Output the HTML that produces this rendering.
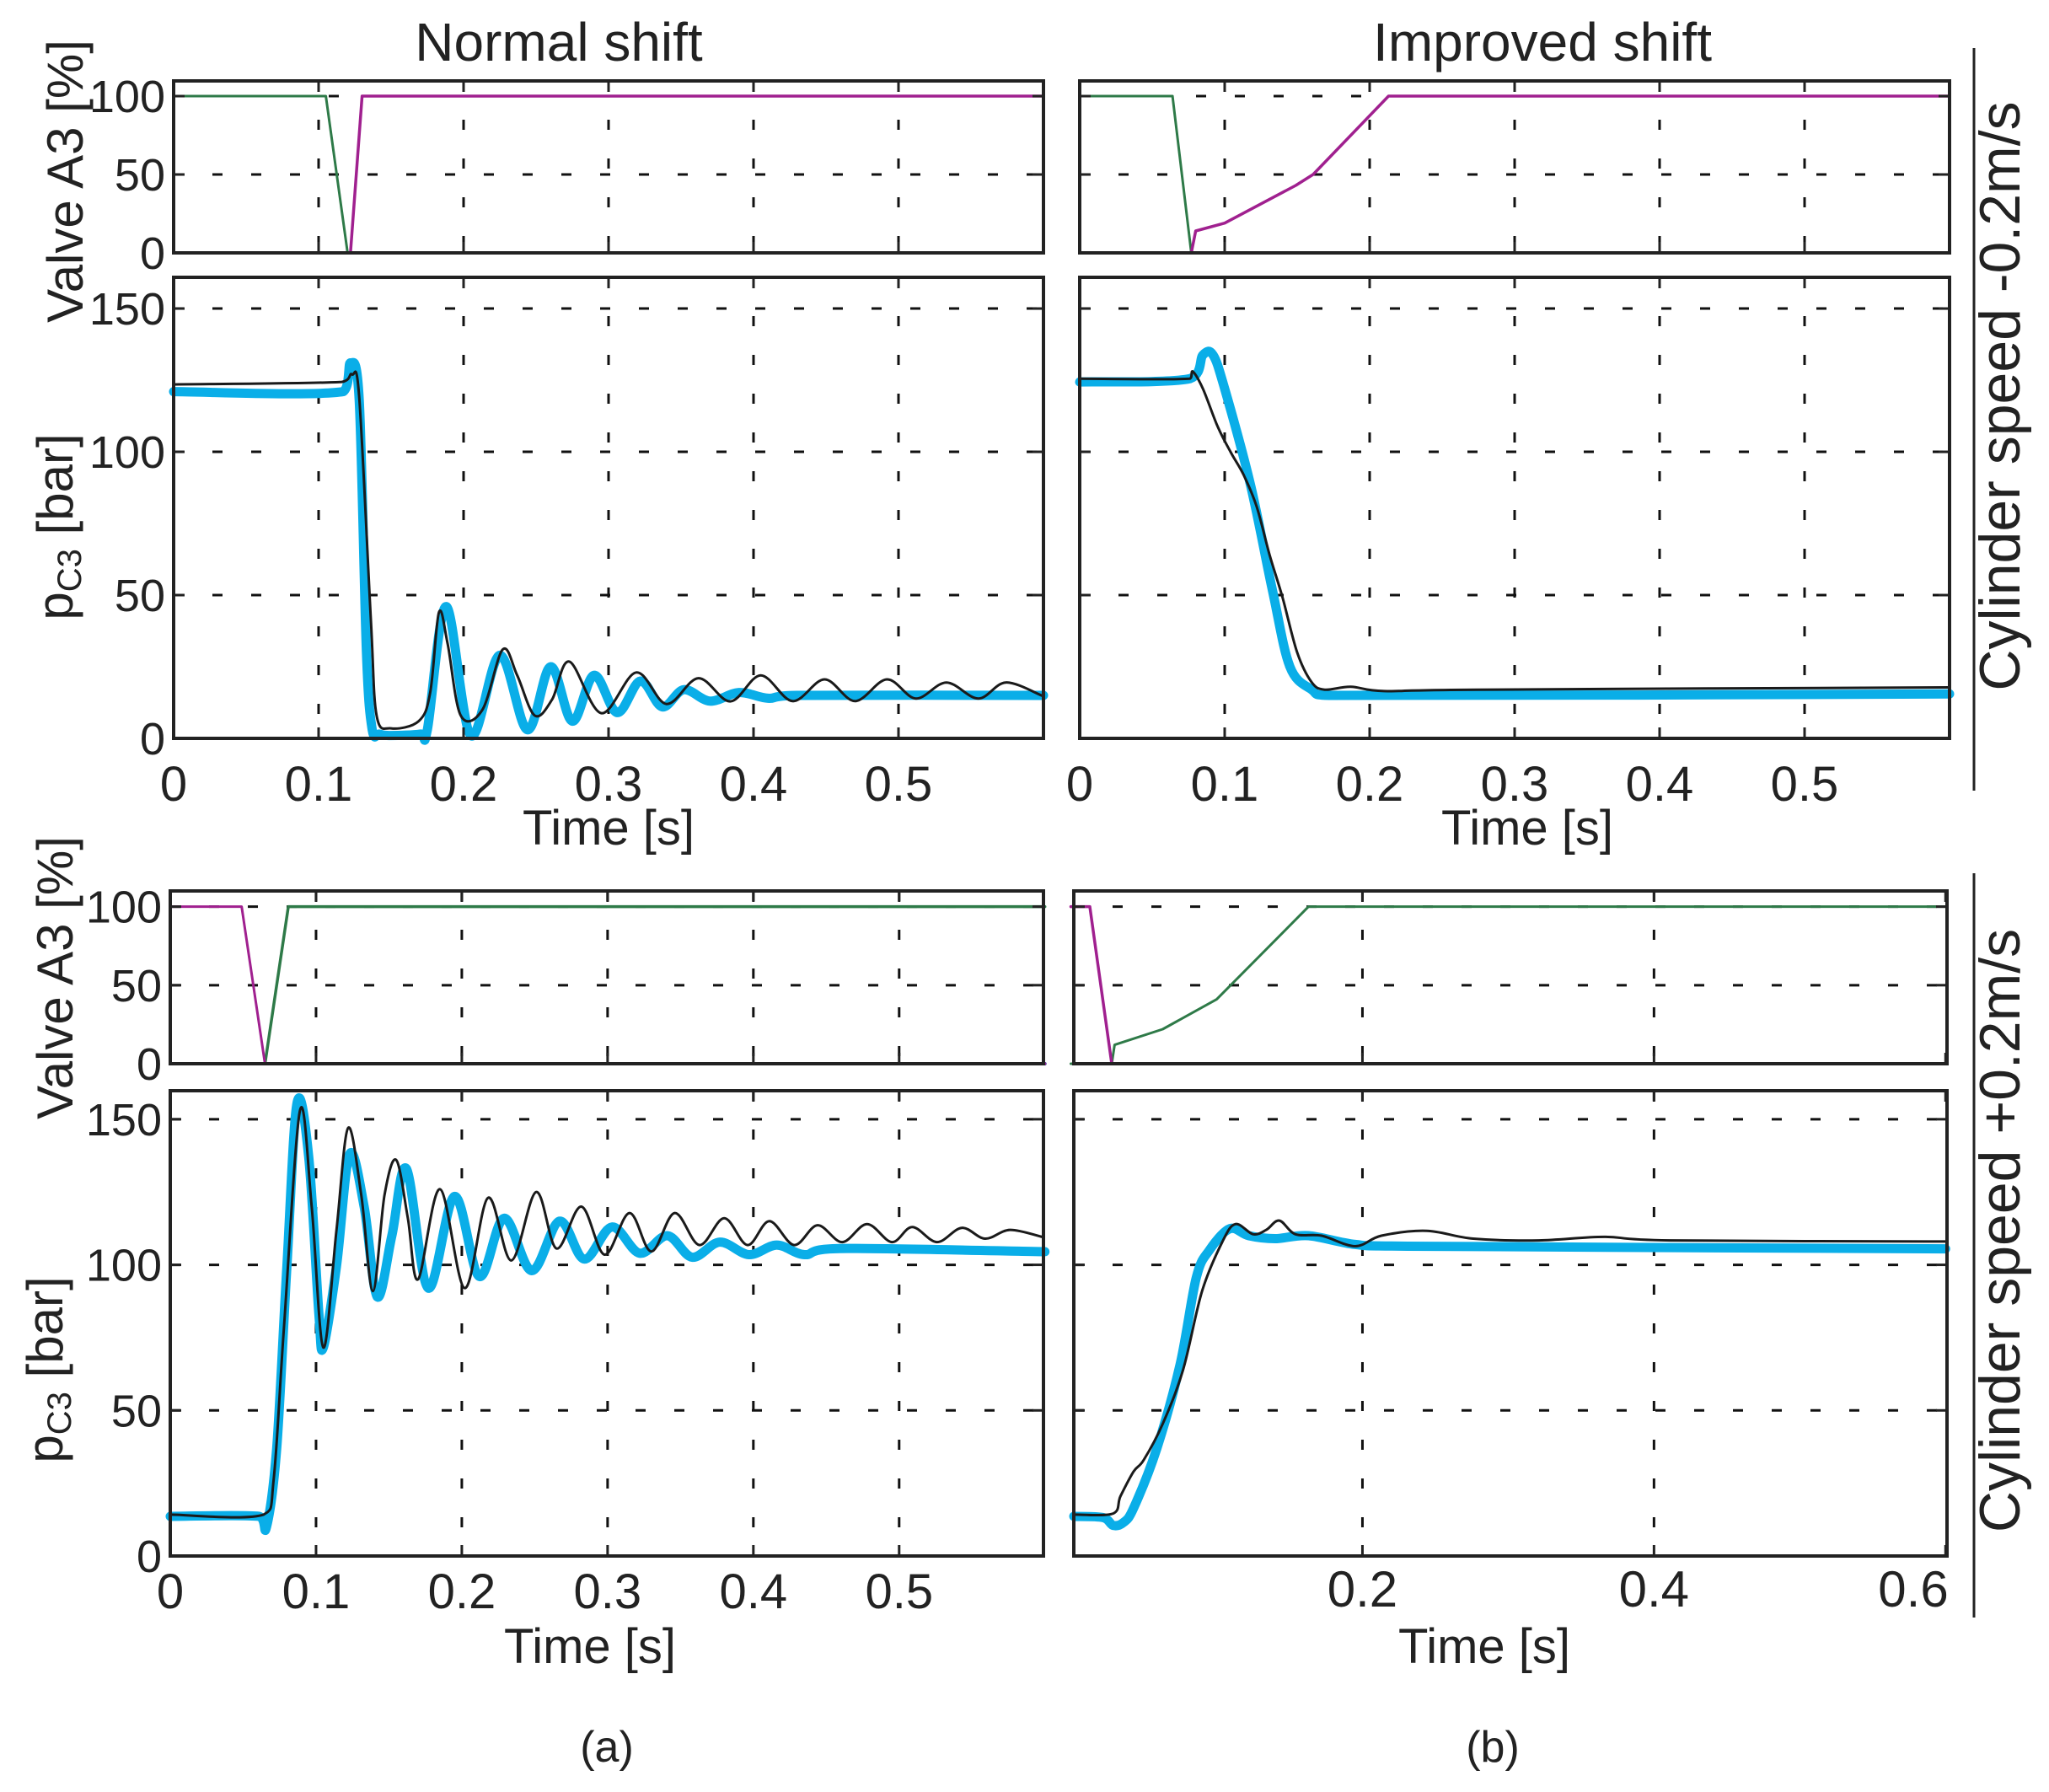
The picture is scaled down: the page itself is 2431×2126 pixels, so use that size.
<!DOCTYPE html>
<html><head><meta charset="utf-8">
<style>
html,body{margin:0;padding:0;background:#fff;}
svg{display:block;}
text{font-family:"Liberation Sans",sans-serif;fill:#222;}
</style></head>
<body>
<svg id="fig" width="2431" height="2126" viewBox="0 0 2431 2126" xmlns="http://www.w3.org/2000/svg">
<text x="663" y="72" font-size="64" text-anchor="middle" fill="#333">Normal shift</text>
<text x="1830" y="72" font-size="64" text-anchor="middle" fill="#333">Improved shift</text>
<line x1="2342" y1="57" x2="2342" y2="938" stroke="#222" stroke-width="3"/>
<line x1="2342" y1="1036" x2="2342" y2="1919" stroke="#222" stroke-width="3"/>
<text transform="translate(2396,470) rotate(-90)" font-size="68" text-anchor="middle">Cylinder speed -0.2m/s</text>
<text transform="translate(2396,1460) rotate(-90)" font-size="68" text-anchor="middle">Cylinder speed +0.2m/s</text>
<text transform="translate(98,215) rotate(-90)" font-size="60" text-anchor="middle">Valve A3 [%]</text>
<text transform="translate(86,625) rotate(-90)" font-size="60" text-anchor="middle">p<tspan font-size="40" dy="10">C3</tspan><tspan dy="-10"> [bar]</tspan></text>
<text transform="translate(86,1160) rotate(-90)" font-size="60" text-anchor="middle">Valve A3 [%]</text>
<text transform="translate(74,1625) rotate(-90)" font-size="60" text-anchor="middle">p<tspan font-size="40" dy="10">C3</tspan><tspan dy="-10"> [bar]</tspan></text>
<text x="722" y="1002" font-size="58" text-anchor="middle">Time [s]</text>
<text x="1812" y="1002" font-size="58" text-anchor="middle">Time [s]</text>
<text x="700" y="1973" font-size="58" text-anchor="middle">Time [s]</text>
<text x="1761" y="1973" font-size="58" text-anchor="middle">Time [s]</text>
<text x="720" y="2090" font-size="52" text-anchor="middle" fill="#333">(a)</text>
<text x="1771" y="2090" font-size="52" text-anchor="middle" fill="#333">(b)</text>
</svg>
<script>
// ---- data (time in s, valve in %, pressure in bar) ----
const tlGreenT=[0,0.105,0.12,0.6], tlGreenV=[100,100,0,0];
const tlMagT=[0,0.122,0.13,0.6], tlMagV=[0,0,100,100];
const trGreenT=[0,0.064,0.077,0.6], trGreenV=[100,100,0,0];
const trMagT=[0,0.077,0.08,0.1,0.149,0.161,0.213,0.6], trMagV=[0,0,14,19,43,50,100,100];
const blMagT=[0,0.049,0.065,0.6], blMagV=[100,100,0,0];
const blGreenT=[0,0.065,0.081,0.6], blGreenV=[0,0,100,100];
const brMagT=[0,0.013,0.028,0.6], brMagV=[100,100,0,0];
const brGreenT=[0,0.028,0.03,0.063,0.1,0.163,0.6], brGreenV=[0,0,12,22,41,100,100];

const tlCyanT=[0,0.117,0.122,0.128,0.133,0.137,0.142,0.15,0.17,0.175,0.188,0.205,0.225,0.244,0.26,0.275,0.29,0.306,0.322,0.337,0.352,0.37,0.39,0.41,0.43,0.6];
const tlCyanV=[121,121,131,118,30,3,1.5,1,1.5,3,46,1,29,3,25,6,22,9,20,11,17,13,16,14,15,15];
const tlBlackT=[0,0.116,0.123,0.128,0.136,0.14,0.15,0.169,0.177,0.183,0.189,0.198,0.213,0.227,0.237,0.249,0.261,0.273,0.295,0.319,0.34,0.362,0.384,0.405,0.427,0.449,0.47,0.492,0.512,0.533,0.555,0.574,0.599];
const tlBlackV=[123.5,124.4,127,119,42,8,3.5,6,16,44,33,8,10,31,22,8,13.5,26.8,8.8,23,12,21,12.9,22,13,20.6,13,20.6,13.9,19.5,13.9,19.5,14.9];
const trCyanT=[0,0.076,0.085,0.092,0.1,0.118,0.133,0.145,0.16,0.172,0.6];
const trCyanV=[124.4,125.5,133.8,133.8,122,88,51.5,25,17,15,15.5];
const trBlackT=[0,0.076,0.078,0.085,0.095,0.104,0.113,0.122,0.131,0.14,0.15,0.16,0.169,0.187,0.21,0.274,0.6];
const trBlackV=[125.5,125.5,128,122,109,100,92,81,64,49,30,19.6,17,18,16.5,17,17.8];
const blCyanT=[0,0.061,0.066,0.073,0.08,0.087,0.095,0.102,0.105,0.114,0.123,0.133,0.142,0.152,0.162,0.177,0.195,0.212,0.229,0.248,0.267,0.284,0.303,0.322,0.341,0.358,0.377,0.397,0.416,0.435,0.459,0.6];
const blCyanV=[13.6,13.6,10,37,99.5,155.7,137,82.9,71.6,99.5,138,120,89,110,133,92,123.5,96,116,98,115,102,113,104,110,102.6,107.8,103.5,106.8,103.5,105.6,104.5];
const blBlackT=[0,0.064,0.071,0.078,0.089,0.097,0.105,0.114,0.122,0.131,0.139,0.147,0.155,0.163,0.17,0.185,0.202,0.218,0.234,0.251,0.265,0.282,0.298,0.315,0.33,0.346,0.363,0.38,0.396,0.411,0.428,0.444,0.461,0.478,0.495,0.509,0.526,0.543,0.559,0.576,0.598];
const blBlackV=[14.2,14.2,26.6,78.5,153,120,71.6,111.9,147,124,91,124,136,116,95,126,92,123,101.5,125,105.6,120,103.5,117.8,104.6,117.8,106.8,116,106.8,115,106.8,113.6,107.8,114,107.8,113,107.8,112.7,109,112,109.6];
const brCyanT=[0.002,0.022,0.029,0.036,0.043,0.059,0.075,0.086,0.095,0.109,0.122,0.14,0.163,0.195,0.231,0.6];
const brCyanV=[13.6,13.2,10.5,11.5,16.4,37,66,95.6,105,112.4,110,109,110,107,106.4,105.5];
const brBlackT=[0.002,0.029,0.034,0.043,0.05,0.063,0.077,0.09,0.104,0.113,0.125,0.134,0.143,0.154,0.172,0.195,0.213,0.244,0.276,0.321,0.366,0.411,0.6];
const brBlackV=[14.2,14.6,20.5,29,33,45.4,64,91,108,114,110.5,112,115.2,110.5,110,106.4,110,111.7,109,108.4,109.6,108.4,108];

const xTicksStd=[0,0.1,0.2,0.3,0.4,0.5];
const xTickLabelsStd=["0","0.1","0.2","0.3","0.4","0.5"];
const xTicksBR=[0.2,0.4,0.6];
const xTickLabelsBR=["0.2","0.4","0.6"];
const valveTicks=[0,50,100];
const valveTickLabels=["0","50","100"];
const pressTicks=[0,50,100,150];
const pressTickLabels=["0","50","100","150"];

const NS="http://www.w3.org/2000/svg";
const svg=document.getElementById('fig');
function mk(tag,attrs,parent){const e=document.createElementNS(NS,tag);for(const k in attrs)e.setAttribute(k,attrs[k]);(parent||svg).appendChild(e);return e;}

function smoothPath(P){
  let d='M'+P[0][0].toFixed(1)+','+P[0][1].toFixed(1);
  for(let i=0;i<P.length-1;i++){
    const p0=P[Math.max(0,i-1)],p1=P[i],p2=P[i+1],p3=P[Math.min(P.length-1,i+2)];
    const c1=[p1[0]+(p2[0]-p0[0])/6,p1[1]+(p2[1]-p0[1])/6];
    const c2=[p2[0]-(p3[0]-p1[0])/6,p2[1]-(p3[1]-p1[1])/6];
    c1[0]=Math.min(Math.max(c1[0],p1[0]),p2[0]);c2[0]=Math.min(Math.max(c2[0],p1[0]),p2[0]);
    d+=' C'+c1[0].toFixed(1)+','+c1[1].toFixed(1)+' '+c2[0].toFixed(1)+','+c2[1].toFixed(1)+' '+p2[0].toFixed(1)+','+p2[1].toFixed(1);
  }
  return d;
}

function panel(name,L,R,T,B,x0,x1,y0,y1,xt,xtl,yt,ytl,xlabY,xfs,series,showY,gridX){
  const sx=v=>L+(v-x0)/(x1-x0)*(R-L);
  const sy=v=>B-(v-y0)/(y1-y0)*(B-T);
  const g=mk('g',{});
  
  
  gridX.forEach(v=>{const l=mk('line',{x1:sx(v),x2:sx(v),y1:T,y2:B,stroke:'#111','stroke-width':3,'stroke-dasharray':'12 34'},g);
    });
  yt.forEach(v=>{if(v<=y0)return;const l=mk('line',{x1:L,x2:R,y1:sy(v),y2:sy(v),stroke:'#111','stroke-width':3,'stroke-dasharray':'12 34'},g);
    });
  series.forEach(s=>{
    let p;
    if(s.smooth){
      const P=s.t.map((t,i)=>[sx(t),sy(s.v[i])]);
      p=mk('path',{d:smoothPath(P),fill:'none',stroke:s.c,'stroke-width':s.w,'stroke-linejoin':'round','stroke-linecap':'round'},g);
    } else {
      const pts=s.t.map((t,i)=>sx(t).toFixed(1)+','+sy(s.v[i]).toFixed(1)).join(' ');
      p=mk('polyline',{points:pts,fill:'none',stroke:s.c,'stroke-width':s.w,'stroke-linejoin':'round','stroke-linecap':'round'},g);
    }
    
    
  });
  xt.forEach(v=>{mk('line',{x1:sx(v),x2:sx(v),y1:B,y2:B-13,stroke:'#222','stroke-width':3},g);mk('line',{x1:sx(v),x2:sx(v),y1:T,y2:T+13,stroke:'#222','stroke-width':3},g);});
  yt.forEach(v=>{mk('line',{x1:L,x2:L+13,y1:sy(v),y2:sy(v),stroke:'#222','stroke-width':3},g);mk('line',{x1:R,x2:R-13,y1:sy(v),y2:sy(v),stroke:'#222','stroke-width':3},g);});
  const box=mk('rect',{x:L,y:T,width:R-L,height:B-T,fill:'none',stroke:'#222','stroke-width':4},g);
  
  
  if(xtl){xt.forEach((v,i)=>{let xx=sx(v);if(xx>R-20)xx=R-40;const t=mk('text',{x:xx,y:xlabY,'font-size':xfs,'text-anchor':'middle'},g);t.textContent=xtl[i];
    });}
  if(showY){yt.forEach((v,i)=>{const t=mk('text',{x:L-10,y:sy(v)+19,'font-size':54,'text-anchor':'end'},g);t.textContent=ytl[i];
    });}
}
const GRN='#2e7a48',MAG='#a0208f',BLU='#2b3a8f',CY='#0aaee8',BK='#1a1a1a';
const flat0=[0,0.6],flatV=[0,0];
panel('valve-top-left',206,1238,96,300,0,0.6,0,109.7,xTicksStd,null,valveTicks,valveTickLabels,0,0,
 [{t:flat0,v:flatV,c:BLU,w:4,n:'valve-blue'},{t:tlGreenT,v:tlGreenV,c:GRN,w:3,n:'valve-green'},{t:tlMagT,v:tlMagV,c:MAG,w:3.5,n:'valve-magenta'}],true,[0.1,0.2,0.3,0.4,0.5]);
panel('pressure-top-left',206,1238,329,876,0,0.6,0,160.9,xTicksStd,xTickLabelsStd,pressTicks,pressTickLabels,950,58,
 [{t:tlCyanT,v:tlCyanV,c:CY,w:11,n:'pressure-cyan',smooth:1},{t:tlBlackT,v:tlBlackV,c:BK,w:3,n:'pressure-black',smooth:1}],true,[0.1,0.2,0.3,0.4,0.5]);
panel('valve-top-right',1281,2313,96,300,0,0.6,0,109.7,xTicksStd,null,valveTicks,valveTickLabels,0,0,
 [{t:flat0,v:flatV,c:BLU,w:4,n:'valve-blue'},{t:trGreenT,v:trGreenV,c:GRN,w:3,n:'valve-green'},{t:trMagT,v:trMagV,c:MAG,w:3.5,n:'valve-magenta'}],false,[0.1,0.2,0.3,0.4,0.5]);
panel('pressure-top-right',1281,2313,329,876,0,0.6,0,160.9,xTicksStd,xTickLabelsStd,pressTicks,pressTickLabels,950,58,
 [{t:trCyanT,v:trCyanV,c:CY,w:11,n:'pressure-cyan',smooth:1},{t:trBlackT,v:trBlackV,c:BK,w:3,n:'pressure-black',smooth:1}],false,[0.1,0.2,0.3,0.4,0.5]);
panel('valve-bottom-left',202,1238,1057,1262,0,0.599,0,110,xTicksStd,null,valveTicks,valveTickLabels,0,0,
 [{t:flat0,v:flatV,c:BLU,w:4,n:'valve-blue'},{t:blGreenT,v:blGreenV,c:GRN,w:3.5,n:'valve-green'},{t:blMagT,v:blMagV,c:MAG,w:3,n:'valve-magenta'}],true,[0.1,0.2,0.3,0.4,0.5]);
panel('pressure-bottom-left',202,1238,1294,1846,0,0.599,0,159.8,xTicksStd,xTickLabelsStd,pressTicks,pressTickLabels,1908,58,
 [{t:blCyanT,v:blCyanV,c:CY,w:11,n:'pressure-cyan',smooth:1},{t:blBlackT,v:blBlackV,c:BK,w:3,n:'pressure-black',smooth:1}],true,[0.1,0.2,0.3,0.4,0.5]);
panel('valve-bottom-right',1274,2310,1057,1262,0.002,0.601,0,110,xTicksBR,null,valveTicks,valveTickLabels,0,0,
 [{t:brGreenT,v:brGreenV,c:GRN,w:3,n:'valve-green'},{t:brMagT,v:brMagV,c:MAG,w:3.5,n:'valve-magenta'}],false,[0.2,0.4]);
panel('pressure-bottom-right',1274,2310,1294,1846,0.002,0.601,0,159.8,xTicksBR,xTickLabelsBR,pressTicks,pressTickLabels,1906,60,
 [{t:brCyanT,v:brCyanV,c:CY,w:11,n:'pressure-cyan',smooth:1},{t:brBlackT,v:brBlackV,c:BK,w:3,n:'pressure-black',smooth:1}],false,[0.2,0.4]);
</script>
</body></html>
